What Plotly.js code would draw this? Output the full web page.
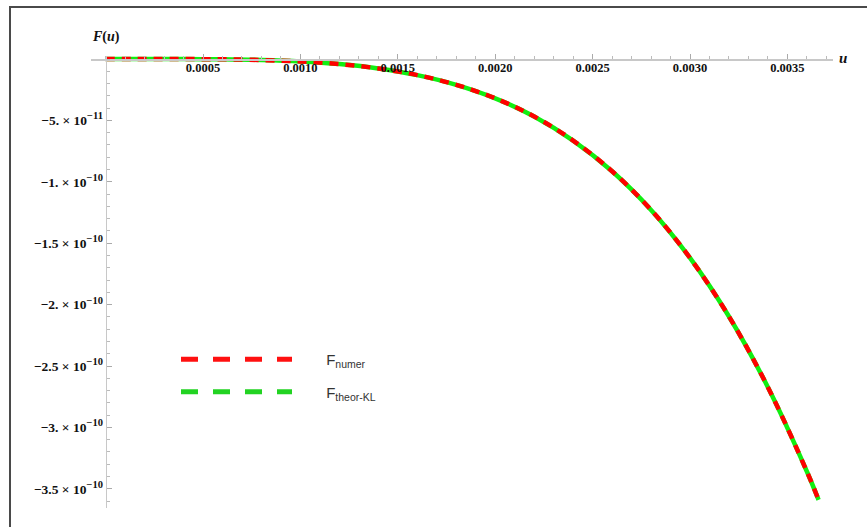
<!DOCTYPE html>
<html><head><meta charset="utf-8">
<script src="https://cdn.plot.ly/plotly-3.0.1.min.js"></script>
<style>
html,body{margin:0;padding:0;background:#fff;overflow:hidden;}
#chart{width:867px;height:527px;}
#frame{position:absolute;left:9px;top:6px;right:-10px;bottom:-10px;border-top:2px solid #4a4a4a;border-left:2px solid #4a4a4a;pointer-events:none;}
</style></head><body>
<div id="chart"></div><div id="frame"></div>
<script>
// u values and F(u)
const u = [0, 0.0002, 0.0004, 0.0006, 0.0008, 0.0010, 0.0012, 0.0014, 0.0016, 0.0018, 0.0020,
           0.0022, 0.0024, 0.0026, 0.0028, 0.0030, 0.0032, 0.0034, 0.0036, 0.00366];
const fNumer = [0, -0.0000003e-10, -0.0005e-10, -0.0026e-10, -0.0082e-10, -0.020e-10, -0.0415e-10, -0.077e-10,
                -0.131e-10, -0.210e-10, -0.320e-10, -0.468e-10, -0.664e-10, -0.914e-10, -1.229e-10,
                -1.620e-10, -2.097e-10, -2.673e-10, -3.359e-10, -3.59e-10];
const fTheor = [0, -0.0000003e-10, -0.0005e-10, -0.0026e-10, -0.0082e-10, -0.020e-10, -0.0415e-10, -0.077e-10,
                -0.131e-10, -0.210e-10, -0.320e-10, -0.468e-10, -0.664e-10, -0.914e-10, -1.229e-10,
                -1.620e-10, -2.097e-10, -2.673e-10, -3.359e-10, -3.59e-10];
const xTickVals = [0.0005, 0.0010, 0.0015, 0.0020, 0.0025, 0.0030, 0.0035];
const xTickText = ['0.0005', '0.0010', '0.0015', '0.0020', '0.0025', '0.0030', '0.0035'];
const yTickVals = [-5e-11, -1e-10, -1.5e-10, -2e-10, -2.5e-10, -3e-10, -3.5e-10];
const yMant = ['\u22125.', '\u22121.', '\u22121.5', '\u22122.', '\u22122.5', '\u22123.', '\u22123.5'];
const yExp = ['\u221211', '\u221210', '\u221210', '\u221210', '\u221210', '\u221210', '\u221210'];
const yTickText = yMant.map((m, i) => m + ' \u00d7 10<sup><span style="font-size:10.5px">' + yExp[i] + '</span></sup>');
const nameNumer = '\u00a0\u00a0\u00a0\u00a0\u00a0\u00a0\u00a0F<sub>numer</sub>';
const nameTheor = '\u00a0\u00a0\u00a0\u00a0\u00a0\u00a0\u00a0F<sub>theor-KL</sub>';

const red = '#ff0000', green = '#11ee11';
const traces = [
  {x: u, y: fTheor, mode: 'lines', line: {color: green, width: 4.5, shape: 'spline'}, showlegend: false, hoverinfo: 'skip'},
  {x: u, y: fNumer, mode: 'lines', line: {color: red, width: 4.5, dash: '9px,7px', shape: 'spline'}, showlegend: false, hoverinfo: 'skip'},
  {x: [null], y: [null], mode: 'lines', name: nameNumer, legendgroup: 'a', line: {color: '#ff1010', width: 5, dash: '17px,15px'}},
  {x: [null], y: [null], mode: 'lines', name: nameTheor, legendgroup: 'b', line: {color: '#22d322', width: 5, dash: '17px,15px'}}
];

const L = 91, R = 34, T = 56, B = 19, W = 867, H = 527;
const pw = W - L - R, ph = H - T - B;
const pxPerU = 194800, pxPerF = 61.4 / 5e-11;
const xmin = -14.6 / pxPerU, xmax = xmin + pw / pxPerU;
const ymax = 3 / pxPerF, ymin = ymax - ph / pxPerF;

const serif = 'Liberation Serif, Times New Roman, serif';
const layout = {
  width: W, height: H,
  margin: {l: L, r: R, t: T, b: B, pad: 0},
  paper_bgcolor: '#fff', plot_bgcolor: '#fff',
  showlegend: true,
  xaxis: {range: [xmin, xmax], anchor: 'free', position: (0 - ymin) / (ymax - ymin), side: 'bottom',
          showgrid: false, zeroline: false, showline: true, linecolor: '#c8c8c8', linewidth: 1.5,
          ticks: 'inside', ticklen: 5, tickwidth: 1, tickcolor: '#aaa', ticklabelstandoff: -4,
          tickmode: 'array', tickvals: xTickVals, ticktext: xTickText,
          tickfont: {family: serif, size: 12.5, color: '#111', weight: 'bold'},
          minor: {dtick: 0.0001, tick0: 0, ticks: 'inside', ticklen: 3, tickcolor: '#bbb', showgrid: false}},
  yaxis: {range: [ymin, ymax], anchor: 'free', position: (0 - xmin) / (xmax - xmin), side: 'left',
          showgrid: false, zeroline: false, showline: true, linecolor: '#c8c8c8', linewidth: 1.5,
          ticks: 'inside', ticklen: 5, tickwidth: 1, tickcolor: '#aaa',
          tickmode: 'array', tickvals: yTickVals, ticktext: yTickText,
          tickfont: {family: serif, size: 13.5, color: '#111', weight: 'bold'},
          minor: {dtick: 1e-11, tick0: 0, ticks: 'inside', ticklen: 3, tickcolor: '#bbb', showgrid: false}},
  legend: {x: (176 - L) / pw, y: 1 - (343 - T) / ph, xanchor: 'left', yanchor: 'top',
           bgcolor: 'rgba(0,0,0,0)', itemwidth: 111, traceorder: 'grouped', tracegroupgap: 10,
           font: {family: 'Liberation Sans, Arial, sans-serif', size: 15, color: '#333'}},
  annotations: [
    {text: '<i>F</i>(<i>u</i>)', xref: 'paper', yref: 'paper', x: (106 - L) / pw, y: 1 + (T - 37) / ph,
     showarrow: false, xanchor: 'center', yanchor: 'middle',
     font: {family: serif, size: 14, color: '#111', weight: 'bold'}},
    {text: '<i>u</i>', xref: 'paper', yref: 'paper', x: (843 - L) / pw, y: 1 + (T - 58) / ph,
     showarrow: false, xanchor: 'center', yanchor: 'middle',
     font: {family: serif, size: 15, color: '#111', weight: 'bold'}}
  ]
};
Plotly.newPlot('chart', traces, layout, {displayModeBar: false, staticPlot: true});
</script>
</body></html>
